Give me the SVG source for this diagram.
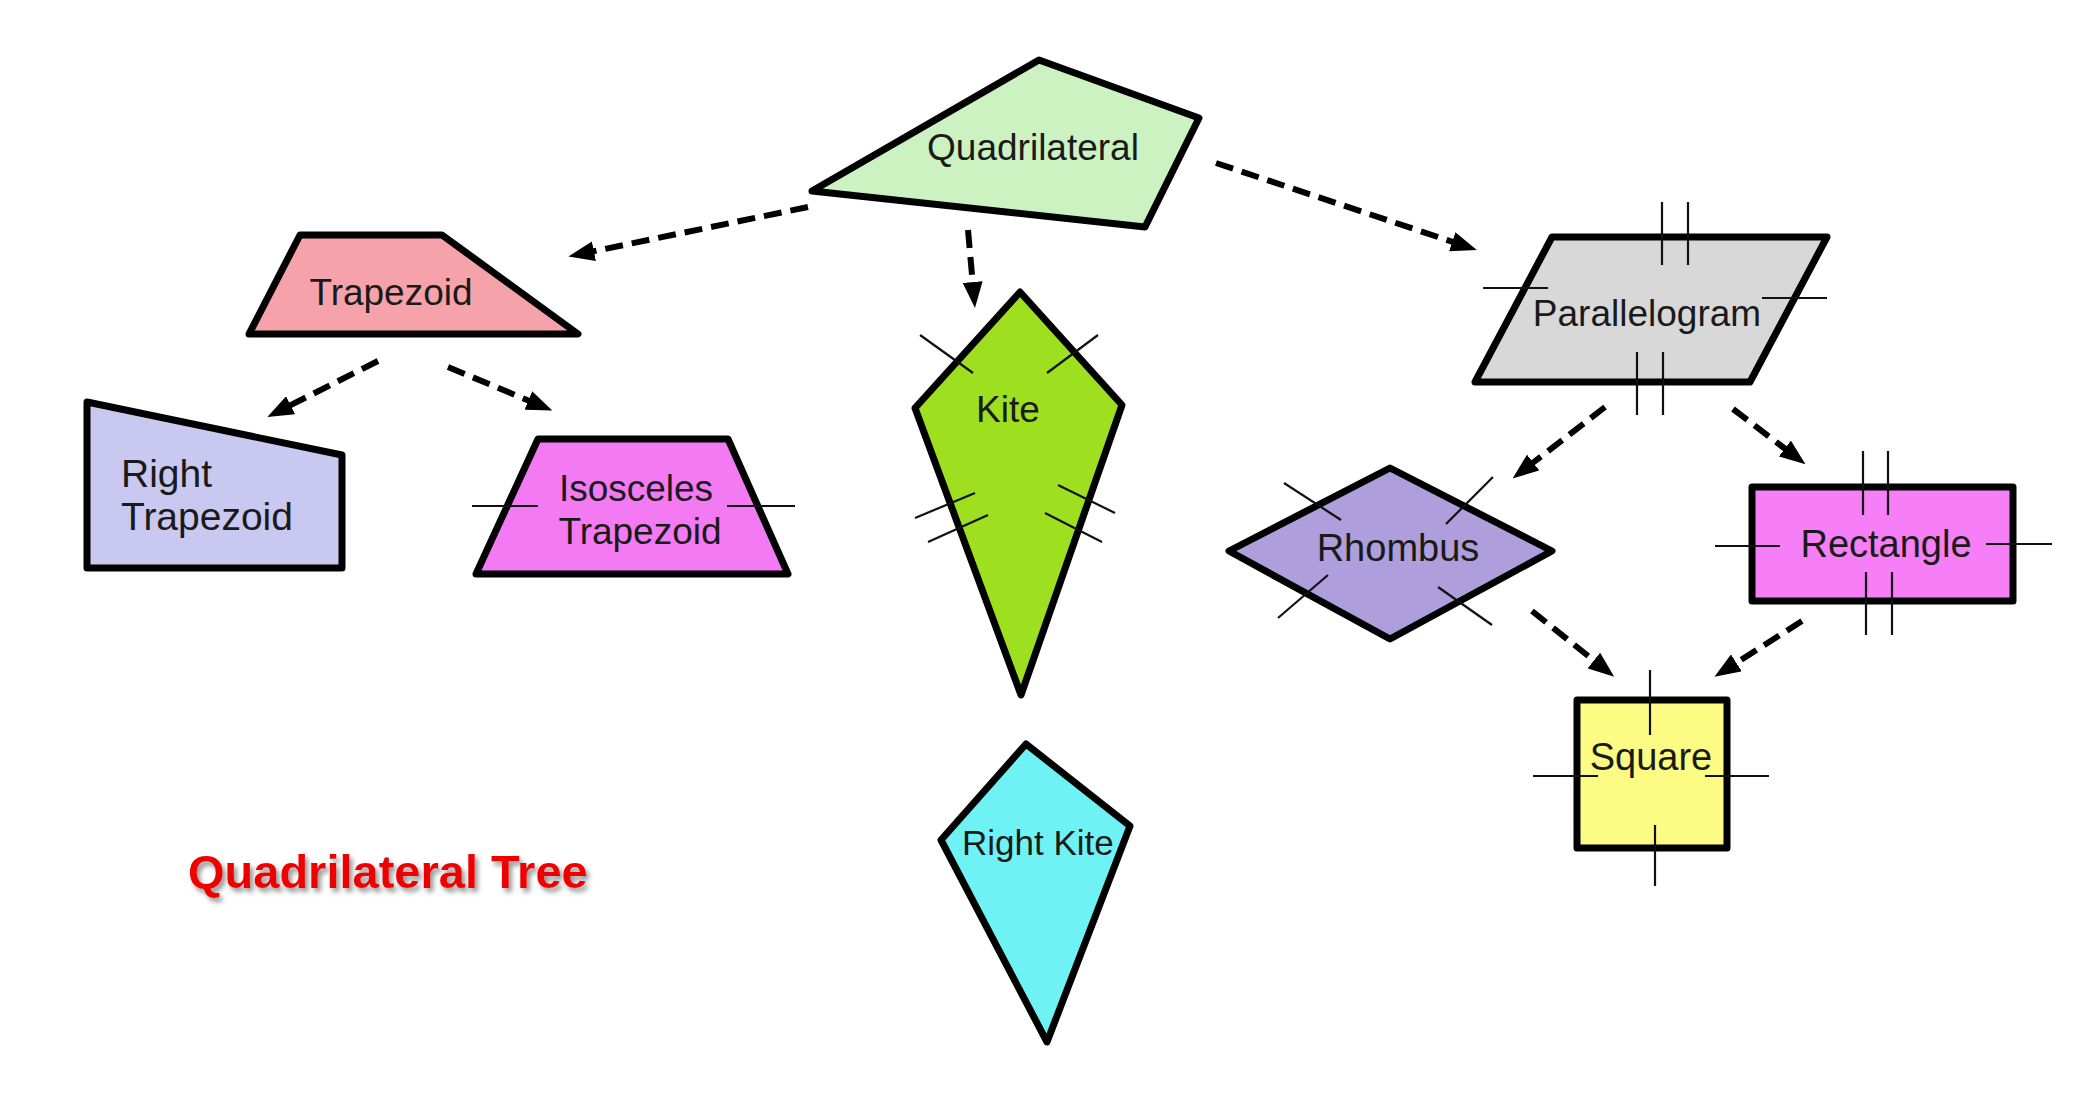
<svg xmlns="http://www.w3.org/2000/svg" width="2095" height="1120" viewBox="0 0 2095 1120">
<style>
.shape{stroke:#000;stroke-width:7;stroke-linejoin:round}
.lbl{font-family:"Liberation Sans",Arial,sans-serif;font-size:37px;fill:#1a1a1a}
.tick{stroke:#111;stroke-width:2.2;fill:none}
.conn{stroke:#000;stroke-width:6;stroke-dasharray:18 9;fill:none}
.title{font-family:"Liberation Sans",Arial,sans-serif;font-weight:bold;font-size:47px;fill:#ee0000}
</style>
<defs>
<marker id="ah" markerUnits="userSpaceOnUse" markerWidth="26" markerHeight="20" refX="4" refY="10" orient="auto">
<path d="M0,0 L26,10 L0,20 z" fill="#000"/>
</marker>
<filter id="sh" x="-10%" y="-30%" width="120%" height="160%">
<feDropShadow dx="3" dy="4" stdDeviation="2.5" flood-color="#777" flood-opacity="0.8"/>
</filter>
</defs>
<rect width="2095" height="1120" fill="#fff"/>
<g id="connectors">
<line class="conn" x1="808" y1="207" x2="590" y2="252" marker-end="url(#ah)"/>
<line class="conn" x1="968" y1="230" x2="973" y2="286" marker-end="url(#ah)"/>
<line class="conn" x1="1216" y1="163" x2="1456" y2="243" marker-end="url(#ah)"/>
<line class="conn" x1="378" y1="361" x2="287" y2="407" marker-end="url(#ah)"/>
<line class="conn" x1="448" y1="367" x2="532" y2="402" marker-end="url(#ah)"/>
<line class="conn" x1="1605" y1="407" x2="1530" y2="465" marker-end="url(#ah)"/>
<line class="conn" x1="1733" y1="409" x2="1788" y2="451" marker-end="url(#ah)"/>
<line class="conn" x1="1532" y1="611" x2="1597" y2="663" marker-end="url(#ah)"/>
<line class="conn" x1="1802" y1="621" x2="1733" y2="665" marker-end="url(#ah)"/>
</g>
<g id="quadrilateral">
<polygon class="shape" points="1039,60 1199,118 1145,227 812,191" fill="#ccf2c2"/>
<text class="lbl" x="1033" y="160" text-anchor="middle">Quadrilateral</text>
</g>
<g id="trapezoid">
<polygon class="shape" points="300,235 442,235 578,334 249,334" fill="#f6a2aa"/>
<text class="lbl" x="391" y="305" text-anchor="middle">Trapezoid</text>
</g>
<g id="right-trapezoid">
<polygon class="shape" points="87,402 342,455 342,568 87,568" fill="#c8c8f0"/>
<text class="lbl" x="121" y="487" style="font-size:39px">Right</text>
<text class="lbl" x="121" y="530" style="font-size:39px">Trapezoid</text>
</g>
<g id="isosceles-trapezoid">
<polygon class="shape" points="538,439 728,439 788,574 476,574" fill="#f47af4"/>
<line class="tick" x1="472" y1="506" x2="538" y2="506"/>
<line class="tick" x1="727" y1="506" x2="795" y2="506"/>
<text class="lbl" x="636" y="501" text-anchor="middle">Isosceles</text>
<text class="lbl" x="640" y="544" text-anchor="middle">Trapezoid</text>
</g>
<g id="kite">
<polygon class="shape" points="1020,292 1122,405 1021,695 915,408" fill="#9ee020"/>
<line class="tick" x1="920" y1="335" x2="973" y2="373"/>
<line class="tick" x1="1098" y1="335" x2="1047" y2="373"/>
<line class="tick" x1="915" y1="518" x2="975" y2="493"/>
<line class="tick" x1="928" y1="542" x2="988" y2="515"/>
<line class="tick" x1="1058" y1="485" x2="1115" y2="513"/>
<line class="tick" x1="1045" y1="513" x2="1102" y2="542"/>
<text class="lbl" x="1008" y="422" text-anchor="middle">Kite</text>
</g>
<g id="right-kite">
<polygon class="shape" points="1026,744 1130,826 1047,1042 941,840" fill="#6ef2f4"/>
<text class="lbl" x="962" y="855" style="font-size:35px">Right Kite</text>
</g>
<g id="parallelogram">
<polygon class="shape" points="1552,237 1827,237 1750,382 1475,382" fill="#d8d8d8"/>
<line class="tick" x1="1662" y1="202" x2="1662" y2="265"/>
<line class="tick" x1="1688" y1="202" x2="1688" y2="265"/>
<line class="tick" x1="1637" y1="352" x2="1637" y2="415"/>
<line class="tick" x1="1663" y1="352" x2="1663" y2="415"/>
<line class="tick" x1="1483" y1="288" x2="1548" y2="288"/>
<line class="tick" x1="1762" y1="298" x2="1827" y2="298"/>
<text class="lbl" x="1647" y="326" text-anchor="middle">Parallelogram</text>
</g>
<g id="rhombus">
<polygon class="shape" points="1390,468 1552,551 1390,639 1229,551" fill="#ae9edc"/>
<line class="tick" x1="1284" y1="483" x2="1341" y2="520"/>
<line class="tick" x1="1493" y1="477" x2="1446" y2="524"/>
<line class="tick" x1="1328" y1="575" x2="1278" y2="618"/>
<line class="tick" x1="1438" y1="587" x2="1492" y2="625"/>
<text class="lbl" x="1398" y="561" text-anchor="middle" style="font-size:38px">Rhombus</text>
</g>
<g id="rectangle">
<rect class="shape" x="1752" y="487" width="261" height="114" fill="#f67ef6"/>
<line class="tick" x1="1863" y1="451" x2="1863" y2="515"/>
<line class="tick" x1="1888" y1="451" x2="1888" y2="515"/>
<line class="tick" x1="1866" y1="572" x2="1866" y2="635"/>
<line class="tick" x1="1892" y1="572" x2="1892" y2="635"/>
<line class="tick" x1="1715" y1="546" x2="1780" y2="546"/>
<line class="tick" x1="1986" y1="544" x2="2052" y2="544"/>
<text class="lbl" x="1886" y="557" text-anchor="middle" style="font-size:38px">Rectangle</text>
</g>
<g id="square">
<rect class="shape" x="1577" y="700" width="150" height="148" fill="#fcfc84"/>
<line class="tick" x1="1650" y1="670" x2="1650" y2="735"/>
<line class="tick" x1="1655" y1="825" x2="1655" y2="886"/>
<line class="tick" x1="1533" y1="776" x2="1598" y2="776"/>
<line class="tick" x1="1705" y1="776" x2="1769" y2="776"/>
<text class="lbl" x="1651" y="770" text-anchor="middle" style="font-size:38px">Square</text>
</g>
<text class="title" x="188" y="888" filter="url(#sh)">Quadrilateral Tree</text>
</svg>
